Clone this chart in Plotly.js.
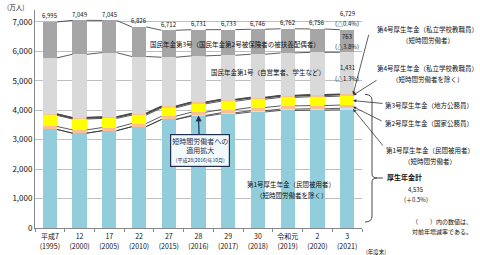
<!DOCTYPE html>
<html><head><meta charset="utf-8">
<script src="https://cdn.plot.ly/plotly-3.0.1.min.js"></script>
<style>html,body{margin:0;padding:0;background:#fff}</style>
</head><body><div id="chart" style="width:480px;height:255px"></div>
<script>
// ---- data (万人) ----
const eraLabels  = ["平成7","12","17","22","27","28","29","30","令和元","2","3"];
const yearLabels = ["(1995)","(2000)","(2005)","(2010)","(2015)","(2016)","(2017)","(2018)","(2019)","(2020)","(2021)"];
const kosei1Excl  = [3347,3219,3302,3441,3686,3792,3874,3938,3991,4000,4013]; // 第1号厚生年金(短時間労働者を除く)
const kosei1Short = [0,0,0,0,0,30,37,43,46,47,52];                           // 第1号厚生年金(短時間労働者)
const kosei2      = [100,112,107,106,108,108,108,108,109,108,108];           // 第2号厚生年金(国家公務員)
const kosei3      = [377,370,310,284,283,284,285,284,287,302,304];           // 第3号厚生年金(地方公務員)
const kosei4Excl  = [41,41,44,52,52,53,54,55,56,57,58];                      // 第4号厚生年金(短時間労働者を除く)
const kosei4Short = [0,0,0,0,0,0.1,0.1,0.2,0.2,0.2,0.3];                     // 第4号厚生年金(短時間労働者)
const kokumin1    = [1910,2154,2190,1938,1668,1575,1505,1471,1453,1449,1431]; // 国民年金第1号
const kokumin3    = [1220,1153,1092,1005,915,889,870,847,820,793,763];        // 国民年金第3号
const pctTotal2021 = "(△0.4%)";
const pctK3_2021   = "(△3.8%)";
const pctK1_2021   = "(△1.3%)";
const pctKosei2021 = "(＋0.5%)";

const series = [kosei1Excl,kosei1Short,kosei2,kosei3,kosei4Excl,kosei4Short,kokumin1,kokumin3];
const colors = ["#92cddc","#c9e7ef","#fac090","#ffff00","#f7c78e","#e59a55","#d9d9d9","#a6a6a6"];

const FONT = "Noto Sans CJK JP, Noto Sans, sans-serif";
const W=480,H=255,L=35,R=118,T=10,B=27;
const plotW=W-L-R, plotH=H-T-B, yMax=7400, barW=0.48;
const px = x => (x-L)/plotW;
const py = y => (H-B-y)/plotH;
const vToPx = v => H-B - v/yMax*plotH;
const idx = eraLabels.map((_,i)=>i);
const fmt = v => Math.round(v).toLocaleString('en-US');

// cumulative levels
const cum = [];
let run = idx.map(()=>0);
series.forEach(s=>{ run = run.map((v,i)=>v+s[i]); cum.push(run.slice()); });
const totals = cum[cum.length-1];
const koseiTotal = cum[5];

const traces = series.map((s,k)=>({
  type:'bar', x:idx, y:s, marker:{color:colors[k], line:{width:0}},
  hoverinfo:'none'
}));
// series lines connecting segment tops between neighbouring bars
cum.forEach((c,k)=>{
  const xs=[], ys=[];
  for(let i=0;i<idx.length-1;i++){ xs.push(i+barW/2, i+1-barW/2, null); ys.push(c[i], c[i+1], null); }
  traces.push({type:'scatter', mode:'lines', x:xs, y:ys, hoverinfo:'none',
    line:{color: k===5 ? '#4a4a4a' : '#333', width: k===5 ? 1.8 : 0.8}});
});

const ann = [];
const f = (size,color)=>({family:FONT,size:size,color:color||'#111'});
const last = idx.length-1;
const D = (x,y,text,shift,size)=>({x:x,y:y,text:text,showarrow:false,xanchor:'center',yanchor:'middle',yshift:shift,font:f(size||6)});
idx.forEach(i=>{ if(i<last) ann.push(D(i,totals[i],fmt(totals[i]),6)); });
ann.push(D(last,totals[last],fmt(totals[last]),16));
ann.push(D(last,totals[last],pctTotal2021,6));
const k3mid = cum[6][last]+kokumin3[last]/2, k1mid = koseiTotal[last]+kokumin1[last]/2;
ann.push(D(last,k3mid,fmt(kokumin3[last]),5));
ann.push(D(last,k3mid,pctK3_2021,-5));
ann.push(D(last,k1mid,fmt(kokumin1[last]),6));
ann.push(D(last,k1mid,pctK1_2021,-5));

const P = (x,y,text,opts)=>Object.assign({xref:'paper',yref:'paper',x:px(x),y:py(y),text:text,showarrow:false,
  xanchor:'center',yanchor:'middle',font:f(6.5)},opts||{});
ann.push(P(15,7,'(万人)',{font:f(6.5)}));
ann.push(P(235,44,'国民年金第3号（国民年金第2号被保険者の被扶養配偶者）'));
ann.push(P(268,72,'国民年金第1号（自営業者、学生など）'));
ann.push(P(291,184,'第1号厚生年金（民間被用者）'));
ann.push(P(292,195,'（短時間労働者を除く）'));
ann.push(P(428,29,'第4号厚生年金（私立学校教職員）'));
ann.push(P(428,40,'（短時間労働者）'));
ann.push(P(428,68,'第4号厚生年金（私立学校教職員）'));
ann.push(P(428,79,'（短時間労働者を除く）'));
ann.push(P(429,105,'第3号厚生年金（地方公務員）'));
ann.push(P(429,123,'第2号厚生年金（国家公務員）'));
ann.push(P(430,150,'第1号厚生年金（民間被用者）'));
ann.push(P(430,161,'（短時間労働者）'));
ann.push(P(385,177,'<b>厚生年金計</b>',{xanchor:'left',font:f(7)}));
ann.push(P(416,189,fmt(koseiTotal[last]),{font:f(6)}));
ann.push(P(416,199,pctKosei2021,{font:f(6)}));
ann.push(P(410,221,'（　　）内の数値は、',{xanchor:'left',font:f(6)}));
ann.push(P(410,231,'対前年増減率である。',{xanchor:'left',font:f(6)}));
ann.push(P(376,252,'(年度末)',{font:f(5.5)}));

// arrows to the 2021 bar segments
const arr = (yv,ax,ay)=>({x:last+0.2,y:yv,text:'',showarrow:true,ax:ax,ay:ay,arrowhead:2,arrowsize:0.8,arrowwidth:0.8,arrowcolor:'#333'});
ann.push(arr(cum[5][last],16,-61));
ann.push(arr(cum[3][last]+kosei4Excl[last]/2,25,-16));
ann.push(arr(cum[2][last]+kosei3[last]/2,31,3));
ann.push(arr(cum[1][last]+kosei2[last]/2,30,15));
ann.push(arr(cum[0][last]+kosei1Short[last]/2,31,38));

// callout
ann.push({x:5,y:cum[1][5],text:'短時間労働者への<br>適用拡大<br><span style="font-size:5px">(平成28(2016)年10月)</span>',
  showarrow:true,ax:1,ay:35,arrowhead:2,arrowsize:1,arrowwidth:1.2,arrowcolor:'#1f2f4f',
  bgcolor:'#f2f9fb',bordercolor:'#1f2f4f',borderwidth:1.2,borderpad:1,font:f(7,'#1f2f4f')});

// bracket
const topY = vToPx(koseiTotal[last]);
const Q = (x,y)=>px(x).toFixed(4)+','+py(y).toFixed(4);
const bracket = `M${Q(365,topY)} Q${Q(372,topY)} ${Q(372,topY+6)} L${Q(372,174)} Q${Q(372,178)} ${Q(377,178)} Q${Q(372,178)} ${Q(372,182)} L${Q(372,216)} Q${Q(372,222)} ${Q(365,222)} M${Q(377,178)} L${Q(383,178)}`;

const layout = {
  width:W,height:H,margin:{l:L,r:R,t:T,b:B},
  paper_bgcolor:'#fff',plot_bgcolor:'#fff',
  barmode:'stack',bargap:1-barW,showlegend:false,
  font:{family:FONT,size:7,color:'#111'},
  xaxis:{range:[-0.5,idx.length-0.5],tickmode:'array',tickvals:idx,
    ticktext:idx.map(i=>eraLabels[i]+'<br>'+yearLabels[i]),
    ticks:'',showgrid:false,zeroline:false,showline:true,linecolor:'#888',linewidth:1,
    tickfont:{family:FONT,size:7,color:'#111'},ticklabelstandoff:2,
    minor:{tickmode:'array',tickvals:[-1].concat(idx).map(i=>i+0.5),ticks:'outside',ticklen:3,tickcolor:'#888',showgrid:false},
    fixedrange:true,automargin:false},
  yaxis:{range:[0,yMax],dtick:1000,tick0:0,tickformat:',d',showgrid:true,gridcolor:'#bfbfbf',gridwidth:1,
    zeroline:false,showline:true,linecolor:'#888',linewidth:1,ticks:'',
    tickfont:{family:FONT,size:8,color:'#111'},fixedrange:true,automargin:false},
  annotations:ann,
  shapes:[{type:'path',xref:'paper',yref:'paper',path:bracket,line:{color:'#333',width:0.9}}]
};
Plotly.newPlot('chart',traces,layout,{staticPlot:true,displayModeBar:false});
</script></body></html>
